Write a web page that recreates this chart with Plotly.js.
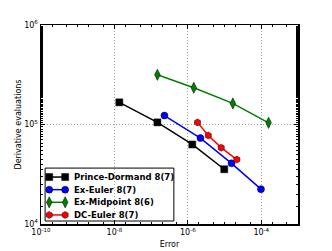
<!DOCTYPE html>
<html><head><meta charset="utf-8">
<script src="https://cdn.plot.ly/plotly-3.0.1.min.js"></script>
<style>html,body{margin:0;padding:0;background:#fff}#c{width:332px;height:251px}</style>
</head><body><div id="c"></div>
<script>
const pdErr = [1.36e-8, 1.48e-7, 1.32e-6, 9.8e-6];
const pdEval = [167000, 105000, 63000, 35500];
const eeErr = [2.3e-7, 2.2e-6, 1.55e-5, 9.8e-5];
const eeEval = [123000, 73000, 40700, 22400];
const emErr = [1.48e-7, 1.45e-6, 1.68e-5, 1.58e-4];
const emEval = [316000, 234000, 163000, 104000];
const dcErr = [1.83e-6, 3.6e-6, 8.1e-6, 2.16e-5];
const dcEval = [105000, 77600, 58500, 44400];
const names = ["Prince-Dormand 8(7)", "Ex-Euler 8(7)", "Ex-Midpoint 8(6)", "DC-Euler 8(7)"];
const xTickVals = [1e-10, 1e-8, 1e-6, 1e-4];
const xTickText = ["10<sup>-10</sup>", "10<sup>-8</sup>", "10<sup>-6</sup>", "10<sup>-4</sup>"];
const yTickVals = [1e4, 1e5, 1e6];
const yTickText = ["10<sup>4</sup>", "10<sup>5</sup>", "10<sup>6</sup>"];

const colors = ["#000000", "#0000ff", "#008000", "#ff0000"];
const symbols = ["square", "circle", "diamond-tall", "hexagon"];
const sizes = [7, 7, 8, 7];
const xs = [pdErr, eeErr, emErr, dcErr];
const ys = [pdEval, eeEval, emEval, dcEval];
const traces = xs.map((x, i) => ({
  x: x, y: ys[i], name: names[i], type: "scatter", mode: "lines+markers",
  showlegend: false,
  line: {color: colors[i], width: 1.5},
  marker: {color: colors[i], symbol: symbols[i], size: sizes[i], line: {color: "#000", width: 0.5}}
}));

// custom compact legend (matplotlib-like), in plot-area fractions
const legX0 = 0.016, legX1 = 0.517, legY0 = 0.015, legY1 = 0.281;
const rowTop = 0.236, rowStep = 0.0635;
const sampleX = [0.032, 0.094], textX = 0.122;
const annotations = [];
names.forEach((n, i) => {
  const yy = rowTop - i * rowStep;
  traces.push({
    x: sampleX, y: [yy, yy], xaxis: "x2", yaxis: "y2", type: "scatter", mode: "lines+markers",
    showlegend: false, hoverinfo: "skip",
    line: {color: colors[i], width: 1.5},
    marker: {color: colors[i], symbol: symbols[i], size: sizes[i], line: {color: "#000", width: 0.5}}
  });
  annotations.push({
    xref: "paper", yref: "paper", x: textX, y: yy, xanchor: "left", yanchor: "middle",
    text: "<b>" + n + "</b>", showarrow: false,
    font: {family: "DejaVu Sans", size: 8.5, color: "#000"}
  });
});

const axisCommon = {
  type: "log", showline: true, mirror: "all", linecolor: "#000", linewidth: 1.5,
  ticks: "inside", ticklen: 4, tickcolor: "#000", zeroline: false,
  showgrid: true, gridcolor: "#a0a0a0", griddash: "1px,2px", gridwidth: 1,
  tickfont: {family: "DejaVu Sans", size: 8, color: "#000"},
  minor: {ticks: "inside", ticklen: 2, tickcolor: "#000", showgrid: false}
};
const layout = {
  width: 332, height: 251,
  margin: {l: 41, r: 34, t: 25, b: 27},
  paper_bgcolor: "#fff", plot_bgcolor: "#fff",
  showlegend: false,
  xaxis: Object.assign({}, axisCommon, {
    range: [-10, -3], tickvals: xTickVals, ticktext: xTickText,
    title: {text: "Error", font: {family: "DejaVu Sans", size: 8, color: "#000"}, standoff: 5}
  }),
  yaxis: Object.assign({}, axisCommon, {
    range: [4, 6], tickvals: yTickVals, ticktext: yTickText,
    title: {text: "Derivative evaluations", font: {family: "DejaVu Sans", size: 8, color: "#000"}, standoff: 1}
  }),
  xaxis2: {overlaying: "x", anchor: "y2", range: [0, 1], visible: false, fixedrange: true},
  yaxis2: {overlaying: "y", anchor: "x2", range: [0, 1], visible: false, fixedrange: true},
  shapes: [{
    type: "rect", xref: "paper", yref: "paper", x0: legX0, x1: legX1, y0: legY0, y1: legY1,
    fillcolor: "#fff", line: {color: "#000", width: 1}, layer: "between"
  }],
  annotations: annotations
};
Plotly.newPlot("c", traces, layout, {displayModeBar: false, staticPlot: true});
</script>
</body></html>
